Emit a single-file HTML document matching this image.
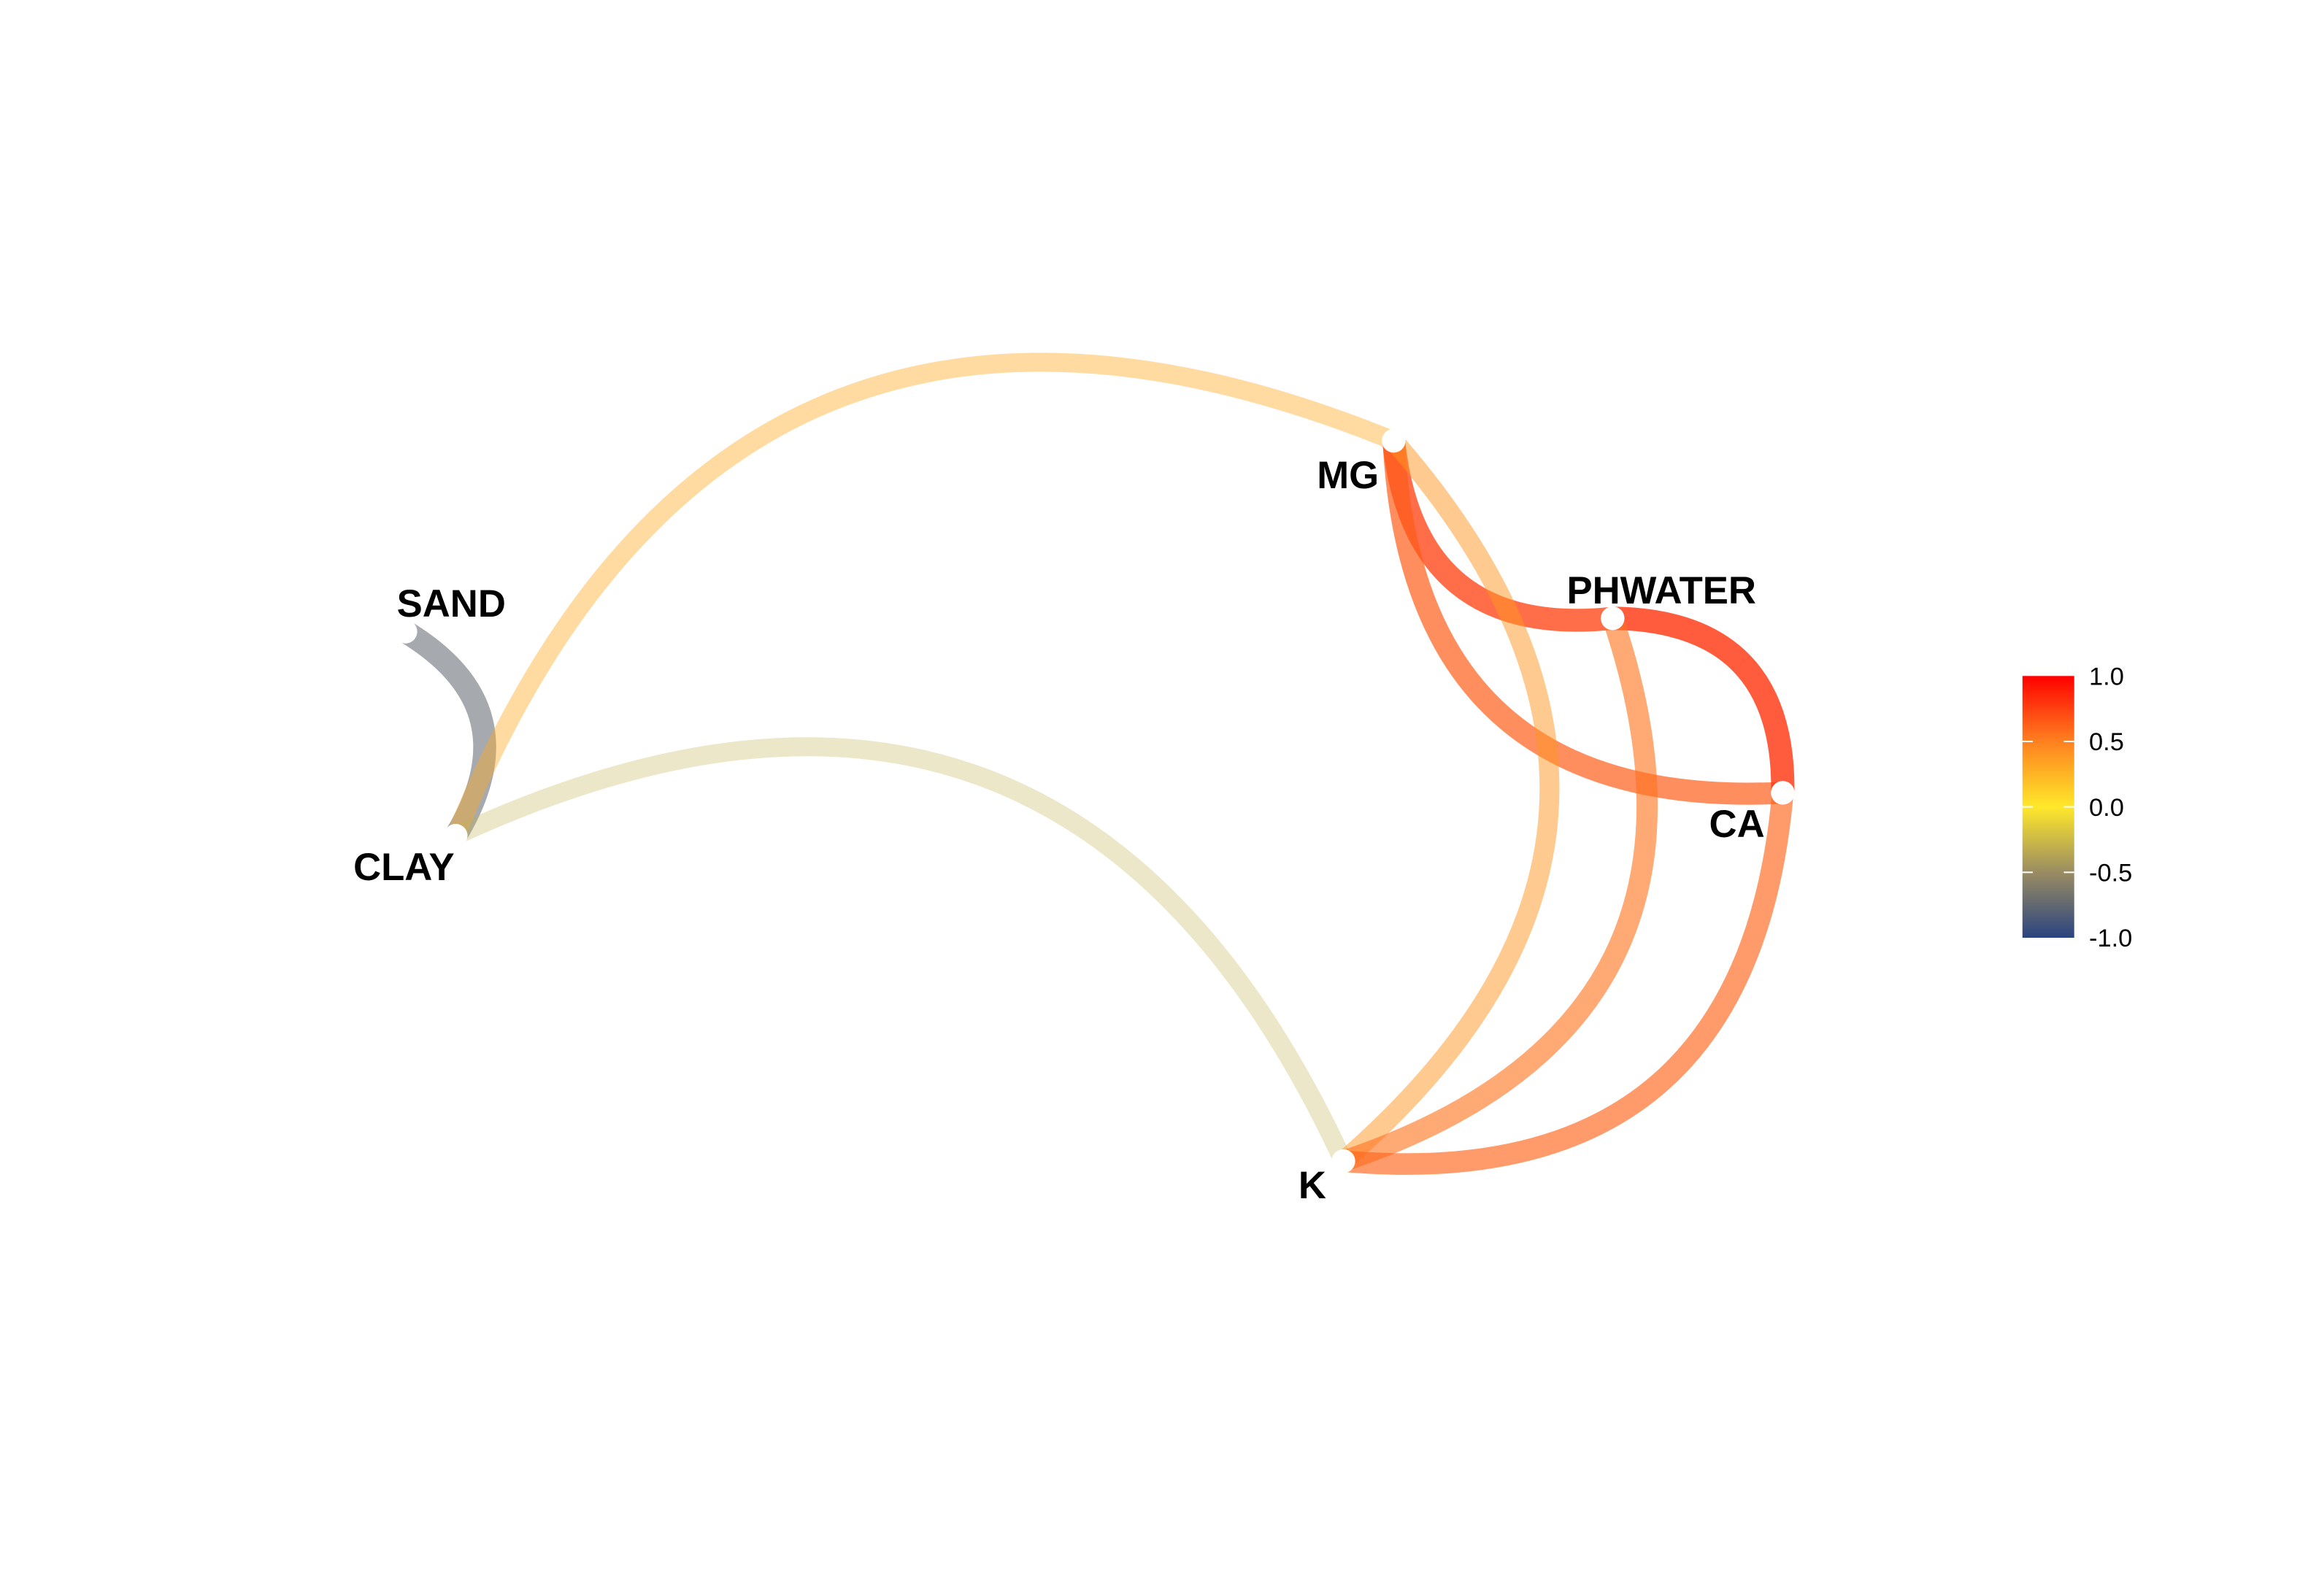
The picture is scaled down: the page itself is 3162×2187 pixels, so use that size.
<!DOCTYPE html>
<html><head><meta charset="utf-8"><style>html,body{margin:0;padding:0;background:#fff}svg{display:block}</style></head>
<body>
<svg id="chart" width="3162" height="2187" viewBox="0 0 1560 1079" xmlns="http://www.w3.org/2000/svg" font-family="Liberation Sans, sans-serif">
<defs>
<linearGradient id="cgrad" x1="0" y1="1" x2="0" y2="0">
<stop offset="0" stop-color="#2a4480"/><stop offset="0.25" stop-color="#9a8c62"/><stop offset="0.5" stop-color="#ffe82a"/><stop offset="0.75" stop-color="#ff8020"/><stop offset="1" stop-color="#ff0000"/>
</linearGradient>
</defs>
<g id="edges"></g>
<g id="nodes"></g>
<g id="legend">
<rect x="1367" y="457" width="35" height="177" fill="url(#cgrad)"/>
<g id="ticks"></g>
</g>
</svg>
<script>
const nodeNames = ["SAND","CLAY","MG","PHWATER","CA","K"];
const nodeX = [274,308,942,1090,1205,908];
const nodeY = [427,565,298,418,536,785];
const edgeFrom = [0,1,1,3,4,2,3,3,4];
const edgeTo   = [1,2,5,2,2,5,4,5,5];
const edgeR    = [-0.75,0.3,-0.3,0.75,0.65,0.4,0.8,0.55,0.6];
const tickLabels = ["1.0","0.5","0.0","-0.5","-1.0"];
const tickValues = [1,0.5,0,-0.5,-1];

const NS="http://www.w3.org/2000/svg";
const stops=[[-1,[42,68,128]],[-0.5,[154,140,98]],[0,[255,232,42]],[0.5,[255,128,32]],[1,[255,0,0]]];
function colorOf(r){for(let i=0;i<stops.length-1;i++){const a=stops[i],b=stops[i+1];if(r<=b[0]){const t=(r-a[0])/(b[0]-a[0]);return 'rgb('+a[1].map((v,k)=>Math.round(v+(b[1][k]-v)*t)).join(',')+')';}}return 'rgb(255,0,0)';}
const eg=document.getElementById('edges');
for(let i=0;i<edgeR.length;i++){
  const x1=nodeX[edgeFrom[i]],y1=nodeY[edgeFrom[i]],x2=nodeX[edgeTo[i]],y2=nodeY[edgeTo[i]];
  const dx=x2-x1,dy=y2-y1;const mx=(x1+x2)/2,my=(y1+y2)/2;
  const cx=mx+dy*0.5,cy=my-dx*0.5;
  const p=document.createElementNS(NS,'path');
  p.setAttribute('d',`M${x1},${y1} Q${cx},${cy} ${x2},${y2}`);
  p.setAttribute('fill','none');p.setAttribute('stroke',colorOf(edgeR[i]));
  const op = edgeR[i] < 0 ? 0.12+0.6*Math.abs(edgeR[i]) : Math.min(0.8,0.2+0.75*Math.abs(edgeR[i]));
  p.setAttribute('stroke-opacity',op);
  p.setAttribute('stroke-width',11+6*Math.abs(edgeR[i]));
  
  
  eg.appendChild(p);
}
const lab={SAND:[305,417,'middle'],CLAY:[273,595,'middle'],MG:[932,330,'end'],PHWATER:[1123,408,'middle'],CA:[1174,566,'middle'],K:[887,810,'middle']};
const ng=document.getElementById('nodes');
for(let i=0;i<nodeNames.length;i++){
  const c=document.createElementNS(NS,'circle');
  c.setAttribute('cx',nodeX[i]);c.setAttribute('cy',nodeY[i]);c.setAttribute('r',8);c.setAttribute('fill','#fff');
  
  
  ng.appendChild(c);
  const t=document.createElementNS(NS,'text');const L=lab[nodeNames[i]];
  t.setAttribute('x',L[0]);t.setAttribute('y',L[1]);t.setAttribute('text-anchor',L[2]);
  t.setAttribute('font-size','26');t.setAttribute('font-weight','bold');t.textContent=nodeNames[i];
  
  
  ng.appendChild(t);
}
const tg=document.getElementById('ticks');
for(let i=0;i<tickValues.length;i++){
  const y=457+(1-tickValues[i])/2*177;
  const t=document.createElementNS(NS,'text');
  t.setAttribute('x',1412);t.setAttribute('y',y+6);t.setAttribute('font-size','17');t.textContent=tickLabels[i];
  
  
  tg.appendChild(t);
  if(tickValues[i]!==1&&tickValues[i]!==-1){
    for(const x of [1367,1395]){const l=document.createElementNS(NS,'line');
      l.setAttribute('x1',x);l.setAttribute('x2',x+7);l.setAttribute('y1',y);l.setAttribute('y2',y);l.setAttribute('stroke','#fff');l.setAttribute('stroke-width','1');
      
      
      tg.appendChild(l);}
  }
}
</script>
</body></html>
